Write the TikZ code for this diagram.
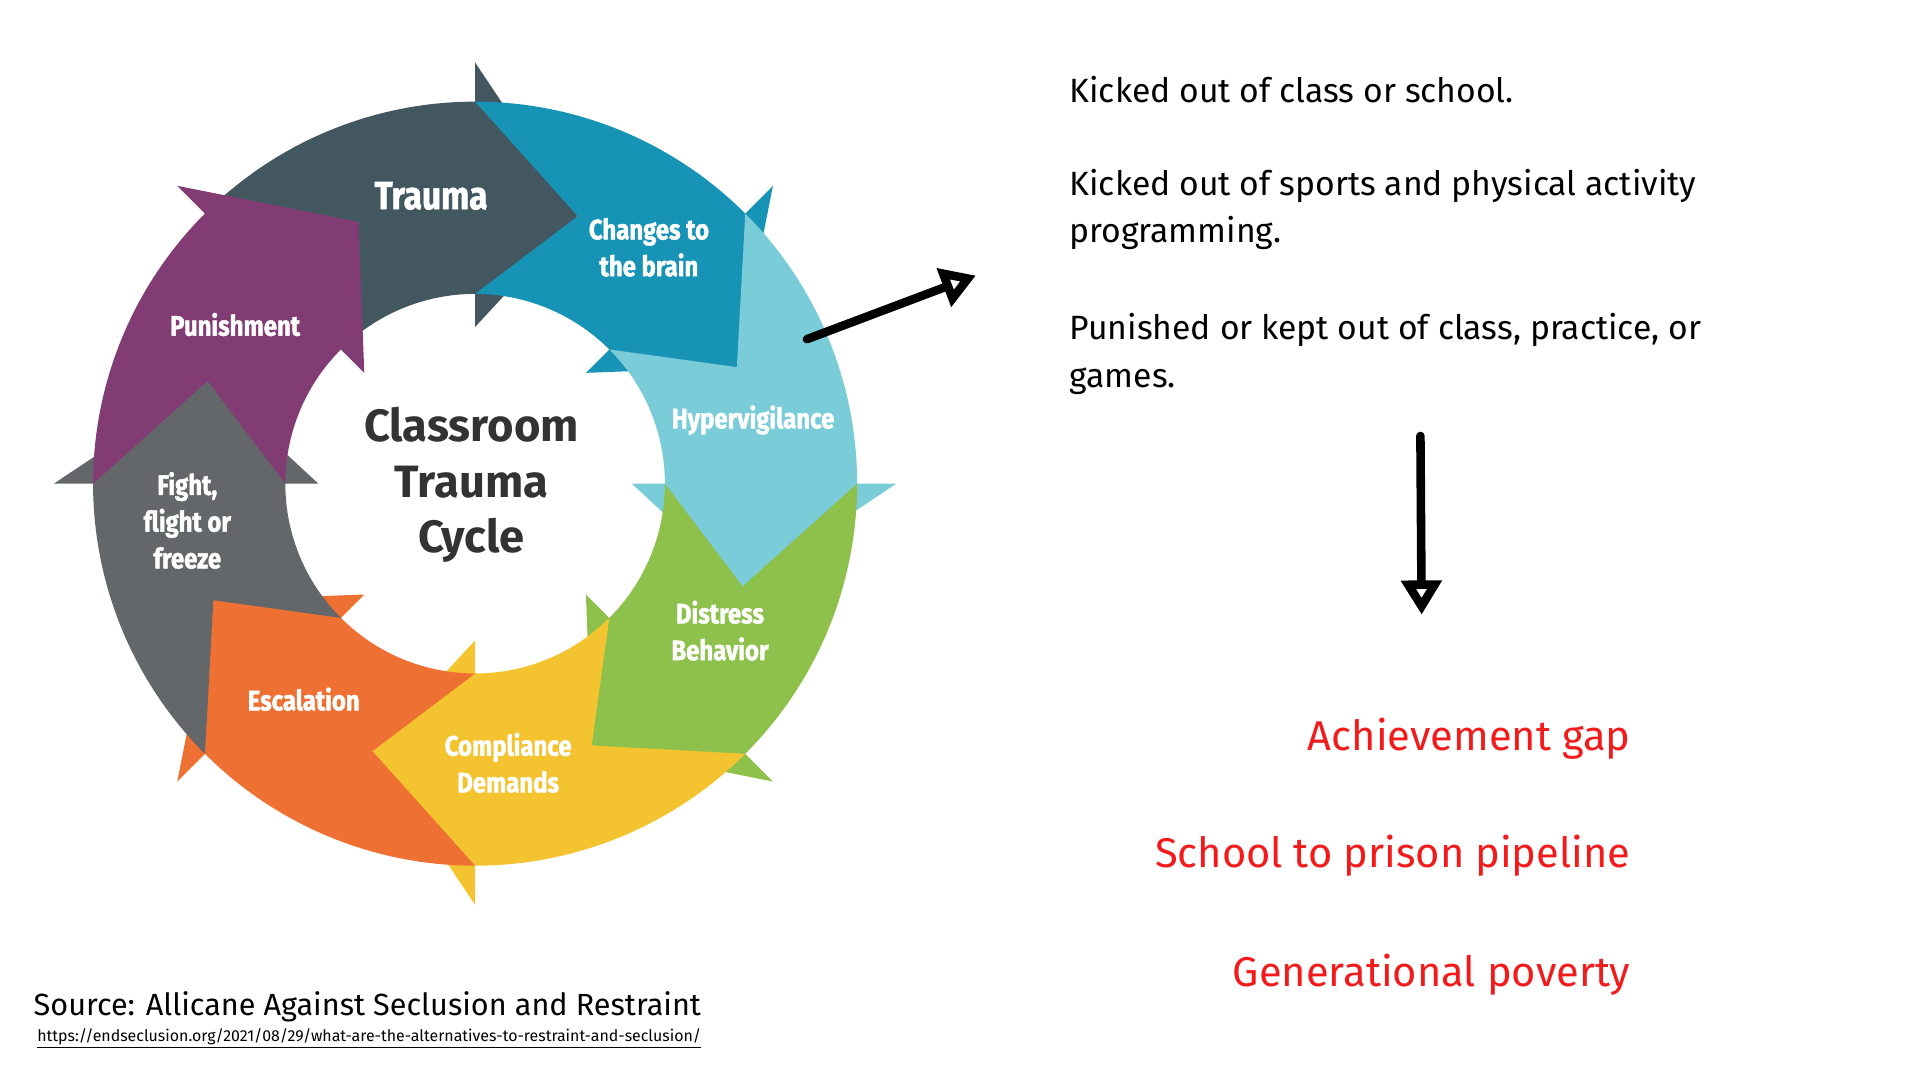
\documentclass[tikz,border=0pt]{standalone}
\usepackage{fontspec}
\setmainfont{Fira Sans}
\newfontfamily\cond{Fira Sans}[FakeStretch=0.85,FakeBold=1.5,UprightFont=* Bold]
\usetikzlibrary{arrows.meta}
\definecolor{cT}{HTML}{435761}
\definecolor{cC}{HTML}{1793B5}
\definecolor{cH}{HTML}{7ACDD8}
\definecolor{cD}{HTML}{8DC14B}
\definecolor{cM}{HTML}{F4C430}
\definecolor{cE}{HTML}{EE7033}
\definecolor{cF}{HTML}{636769}
\definecolor{cP}{HTML}{823C74}
\definecolor{redtxt}{HTML}{F21B1B}
\begin{document}
\begin{tikzpicture}[x=1pt,y=1pt,
  seglabel/.style={text=white,font=\cond\fontsize{23}{30}\selectfont,align=center},
  body/.style={font=\fontsize{27.5}{39}\selectfont,anchor=west,align=left},
  redlbl/.style={text=redtxt,font=\fontsize{34}{40}\selectfont,anchor=east},
  bigarrow/.style={line width=7pt,line cap=round,line join=round,-{Triangle[open,length=28pt,width=32pt,line width=7pt]}}]
\useasboundingbox (0,0) rectangle (1568,-882);
\begin{scope}[shift={(388,-395)}]
\foreach \s/\e/\c in {135/90/cT,90/45/cC,45/0/cH,0/-45/cD,-45/-90/cM,-90/-135/cE,-135/-180/cF,180/135/cP}{
  \fill[\c] (\s:312pt) arc[start angle=\s,end angle=\e,radius=312pt] -- (\e:344pt) -- (\e-21:234pt) -- (\e:128pt) -- (\e:155pt)
    arc[start angle=\e,end angle=\s,radius=155pt] -- (\s-21:234pt) -- cycle;
}
\end{scope}
\node[seglabel,font=\cond\fontsize{32}{36}\selectfont] (t1) at (352,-160) {Trauma};
\node[seglabel] (t2) at (530,-202) {Changes to\\the brain};
\node[seglabel] (t3) at (615,-343) {Hypervigilance};
\node[seglabel] (t4) at (588,-515) {Distress\\Behavior};
\node[seglabel] (t5) at (415,-623) {Compliance\\Demands};
\node[seglabel] (t6) at (248,-571) {Escalation};
\node[seglabel] (t7) at (153,-425) {Fight,\\flight or\\freeze};
\node[seglabel] (t8) at (192,-265) {Punishment};
\node[font=\bfseries\fontsize{37}{45}\selectfont,text=black!80,align=center] (ctr) at (385,-396) {Classroom\\Trauma\\Cycle};
\node[body] (r1) at (870,-73) {Kicked out of class or school.};
\node[body] (r2) at (870,-171) {Kicked out of sports and physical activity\\programming.};
\node[body] (r3) at (870,-289) {Punished or kept out of class, practice, or\\games.};
\node[redlbl] (g1) at (1335,-603) {Achievement gap};
\node[redlbl] (g2) at (1335,-699) {School to prison pipeline};
\node[redlbl] (g3) at (1335,-796) {Generational poverty};
\node[font=\fontsize{25}{30}\selectfont,anchor=west] (src) at (24,-822) {Source: Allicane Against Seclusion and Restraint};
\node[font=\fontsize{13}{15}\selectfont,anchor=west] (url) at (27,-848) {\underline{https://endseclusion.org/2021/08/29/what-are-the-alternatives-to-restraint-and-seclusion/}};
\coordinate (a1s) at (659,-277);
\coordinate (a1e) at (797,-225);
\coordinate (a2s) at (1160,-356);
\coordinate (a2e) at (1161,-502);
\draw[bigarrow] (a1s) -- (a1e);
\draw[bigarrow] (a2s) -- (a2e);
\end{tikzpicture}
\end{document}
